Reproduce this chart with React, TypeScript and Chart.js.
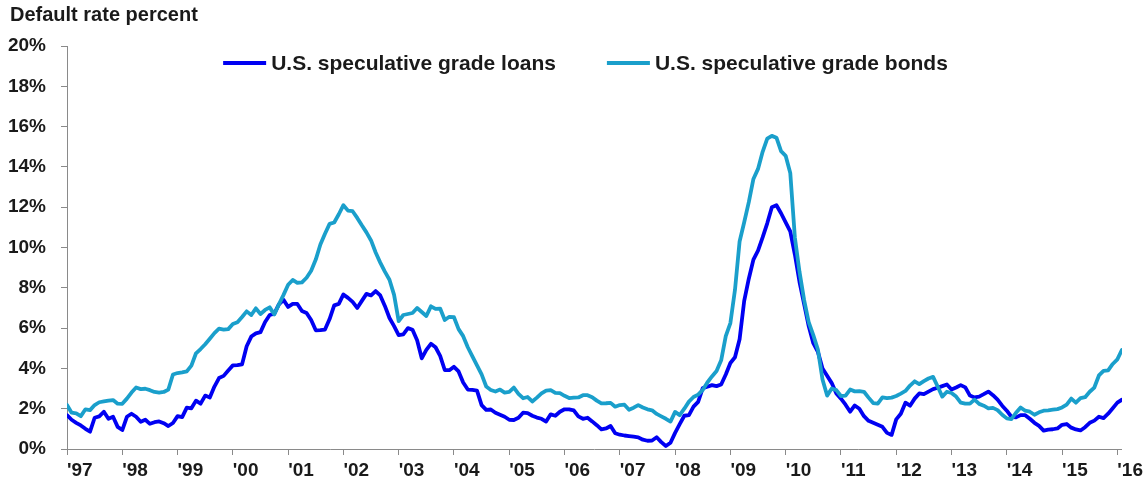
import React, { useEffect, useRef } from "react";
import { Chart, registerables } from "chart.js";

Chart.register(...registerables);

// Months since January 1997 (index 0 = Jan '97)
const yearLabels = [
  "'97", "'98", "'99", "'00", "'01", "'02", "'03", "'04", "'05", "'06",
  "'07", "'08", "'09", "'10", "'11", "'12", "'13", "'14", "'15", "'16",
];
const yearTickMonths = yearLabels.map((_, i) => i * 12);

const yTickValues = [0, 2, 4, 6, 8, 10, 12, 14, 16, 18, 20];

const titleText = "Default rate percent";
const loansLabel = "U.S. speculative grade loans";
const bondsLabel = "U.S. speculative grade bonds";

// Monthly default rates (%), Jan 1997 - Feb 2016
const loans = [
  1.68, 1.45, 1.3, 1.17, 1.0, 0.86, 1.55, 1.62, 1.85, 1.5, 1.6, 1.1,
  0.94, 1.6, 1.75, 1.6, 1.35, 1.45, 1.25, 1.33, 1.37, 1.28, 1.14, 1.29,
  1.63, 1.58, 2.05, 2.02, 2.4, 2.25, 2.65, 2.56, 3.1, 3.52, 3.63, 3.9,
  4.15, 4.16, 4.2, 5.1, 5.58, 5.74, 5.8, 6.3, 6.65, 6.72, 7.18, 7.4,
  7.05, 7.2, 7.2, 6.85, 6.75, 6.4, 5.89, 5.9, 5.93, 6.45, 7.13, 7.2,
  7.67, 7.5, 7.3, 7.0, 7.35, 7.7, 7.62, 7.84, 7.62, 7.1, 6.5, 6.1,
  5.65, 5.69, 6.0, 5.92, 5.4, 4.5, 4.92, 5.22, 5.05, 4.62, 3.92, 3.91,
  4.08, 3.85, 3.3, 2.95, 2.93, 2.9, 2.18, 1.94, 1.96, 1.8, 1.7, 1.6,
  1.45, 1.44, 1.55, 1.8, 1.78, 1.65, 1.56, 1.5, 1.36, 1.72, 1.65, 1.85,
  1.97, 1.97, 1.92, 1.62, 1.5, 1.55, 1.37, 1.18, 0.97, 1.02, 1.14, 0.78,
  0.71, 0.67, 0.64, 0.61, 0.58, 0.46, 0.41, 0.42, 0.58, 0.34, 0.15, 0.31,
  0.8, 1.23, 1.65, 1.68, 2.1, 2.34, 3.02, 3.09, 3.17, 3.12, 3.2, 3.7,
  4.27, 4.55, 5.45, 7.35, 8.45, 9.4, 9.85, 10.5, 11.2, 12.0, 12.1, 11.7,
  11.25, 10.8, 9.65, 8.3, 7.2, 6.1, 5.25, 4.82, 4.0, 3.63, 3.27, 2.75,
  2.5, 2.2, 1.85, 2.16, 2.0, 1.63, 1.4, 1.3, 1.2, 1.1, 0.8, 0.7,
  1.47, 1.75, 2.3, 2.15, 2.5, 2.76, 2.72, 2.85, 2.97, 3.04, 3.12, 3.2,
  2.95, 3.05, 3.17, 3.06, 2.65, 2.56, 2.6, 2.72, 2.85, 2.67, 2.45, 2.15,
  1.9, 1.6, 1.57, 1.68, 1.68, 1.5, 1.3, 1.15, 0.91, 0.96, 0.98, 1.02,
  1.2, 1.24, 1.06, 0.97, 0.92, 1.08, 1.3, 1.41, 1.6, 1.53, 1.75, 2.02,
  2.3, 2.45,
];

const bonds = [
  2.18, 1.8, 1.77, 1.63, 1.97, 1.93, 2.18, 2.32, 2.36, 2.4, 2.43, 2.25,
  2.24, 2.5, 2.8, 3.05, 2.97, 2.99, 2.92, 2.83, 2.8, 2.83, 2.95, 3.7,
  3.77, 3.8, 3.85, 4.14, 4.75, 4.96, 5.2, 5.47, 5.75, 5.97, 5.92, 5.95,
  6.2, 6.29, 6.55, 6.83, 6.65, 6.98, 6.7, 6.9, 7.03, 6.68, 7.18, 7.65,
  8.15, 8.39, 8.25, 8.27, 8.5, 8.85, 9.4, 10.15, 10.68, 11.17, 11.24, 11.65,
  12.1, 11.83, 11.8, 11.47, 11.1, 10.75, 10.35, 9.75, 9.25, 8.8, 8.4, 7.65,
  6.35, 6.65, 6.7, 6.75, 7.0, 6.8, 6.6, 7.08, 6.95, 6.97, 6.4, 6.56,
  6.54, 5.95, 5.6, 5.05, 4.6, 4.15, 3.7, 3.1, 2.93, 2.85, 2.95, 2.8,
  2.83, 3.05, 2.74, 2.52, 2.58, 2.36, 2.55, 2.76, 2.9, 2.92, 2.79, 2.77,
  2.64, 2.53, 2.55, 2.56, 2.67, 2.67, 2.57, 2.4, 2.26, 2.27, 2.29, 2.1,
  2.18, 2.2, 1.95, 2.05, 2.18, 2.06, 1.97, 1.92, 1.74, 1.62, 1.5, 1.36,
  1.84, 1.68, 2.0, 2.35, 2.58, 2.7, 2.93, 3.3, 3.6, 3.87, 4.4, 5.6,
  6.25, 7.9, 10.3, 11.25, 12.25, 13.4, 13.9, 14.75, 15.4, 15.54, 15.45, 14.78,
  14.55, 13.7, 10.5, 8.8, 7.4, 6.3, 5.65, 4.93, 3.45, 2.65, 3.0, 2.92,
  2.63, 2.65, 2.95, 2.86, 2.87, 2.84, 2.55, 2.28, 2.25, 2.56, 2.52, 2.55,
  2.63, 2.75, 2.88, 3.15, 3.36, 3.22, 3.37, 3.5, 3.58, 3.1, 2.6, 2.84,
  2.78, 2.6, 2.3, 2.25, 2.25, 2.45, 2.24, 2.15, 2.02, 2.04, 1.93, 1.7,
  1.52, 1.48, 1.8, 2.06, 1.9, 1.85, 1.7, 1.82, 1.9, 1.92, 1.95, 1.98,
  2.06, 2.2, 2.5, 2.3, 2.52, 2.57, 2.84, 3.05, 3.65, 3.88, 3.9, 4.22,
  4.45, 4.92,
];

const LOANS_COLOR = "#0000f2";
const BONDS_COLOR = "#1a9fcb";
const TEXT_COLOR = "#1a1a1a";
const AXIS_COLOR = "#8a8a8a";
const FONT_FAMILY = '"Liberation Sans", Arial, Helvetica, sans-serif';

const overlayPlugin = {
  id: "overlayTitleLegend",
  afterDraw(chart: any) {
    const { ctx, chartArea } = chart;
    ctx.save();
    ctx.fillStyle = TEXT_COLOR;
    ctx.textBaseline = "middle";
    ctx.textAlign = "left";
    ctx.font = `bold 20px ${FONT_FAMILY}`;
    ctx.fillText(titleText, 10, 15);

    ctx.font = `bold 21px ${FONT_FAMILY}`;
    const items = chart.data.datasets.map((ds: any) => ({
      label: ds.label as string,
      color: ds.borderColor as string,
      w: ctx.measureText(ds.label).width,
    }));
    const lineW = 43;
    const gapLT = 5;
    const gapItems = 51;
    const total =
      items.reduce((s: number, it: any) => s + lineW + gapLT + it.w, 0) +
      gapItems * (items.length - 1);
    let x = (chartArea.left + chartArea.right) / 2 - 9 - total / 2;
    const y = chartArea.top + 17;
    for (const it of items) {
      ctx.strokeStyle = it.color;
      ctx.lineWidth = 4;
      ctx.lineCap = "butt";
      ctx.beginPath();
      ctx.moveTo(x, y);
      ctx.lineTo(x + lineW, y);
      ctx.stroke();
      ctx.fillStyle = TEXT_COLOR;
      ctx.fillText(it.label, x + lineW + gapLT, y + 1);
      x += lineW + gapLT + it.w + gapItems;
    }
    ctx.restore();
  },
};

export default function App() {
  const canvasRef = useRef<HTMLCanvasElement | null>(null);

  useEffect(() => {
    const canvas = canvasRef.current;
    if (!canvas) return;
    const chart = new Chart(canvas, {
      type: "line",
      data: {
        datasets: [
          {
            label: loansLabel,
            data: loans.map((v, i) => ({ x: i, y: v })),
            borderColor: LOANS_COLOR,
            backgroundColor: LOANS_COLOR,
            borderWidth: 3.8,
            pointRadius: 0,
            tension: 0,
            borderJoinStyle: "round",
            borderCapStyle: "round",
            order: 1,
          },
          {
            label: bondsLabel,
            data: bonds.map((v, i) => ({ x: i, y: v })),
            borderColor: BONDS_COLOR,
            backgroundColor: BONDS_COLOR,
            borderWidth: 3.8,
            pointRadius: 0,
            tension: 0,
            borderJoinStyle: "round",
            borderCapStyle: "round",
            order: 0,
          },
        ],
      },
      options: {
        animation: false,
        responsive: false,
        devicePixelRatio: 1,
        layout: { padding: { top: 46, left: 4, right: 0, bottom: 0 } },
        plugins: {
          legend: { display: false },
          title: { display: false },
          tooltip: { enabled: false },
        },
        scales: {
          x: {
            type: "linear",
            min: 0,
            max: loans.length - 1,
            afterBuildTicks: (scale: any) => {
              scale.ticks = yearTickMonths.map((v) => ({ value: v }));
            },
            afterFit: (scale: any) => {
              scale.height = 36;
            },
            border: { display: true, color: AXIS_COLOR, width: 1 },
            grid: {
              display: true,
              drawOnChartArea: false,
              drawTicks: true,
              tickLength: 6,
              color: AXIS_COLOR,
            },
            ticks: {
              autoSkip: false,
              maxRotation: 0,
              minRotation: 0,
              align: "start",
              padding: 4,
              color: TEXT_COLOR,
              font: { family: FONT_FAMILY, size: 19, weight: "bold" },
              callback: (value: any) => {
                const idx = Math.round(Number(value) / 12);
                return yearLabels[idx] ?? "";
              },
            },
          },
          y: {
            type: "linear",
            min: 0,
            max: 20,
            afterBuildTicks: (scale: any) => {
              scale.ticks = yTickValues.map((v) => ({ value: v }));
            },
            afterFit: (scale: any) => {
              scale.width = 63;
            },
            border: { display: true, color: AXIS_COLOR, width: 1 },
            grid: {
              display: true,
              drawOnChartArea: false,
              drawTicks: true,
              tickLength: 6,
              color: AXIS_COLOR,
            },
            ticks: {
              padding: 15,
              color: TEXT_COLOR,
              font: { family: FONT_FAMILY, size: 19, weight: "bold" },
              callback: (value: any) => `${value}%`,
            },
          },
        },
      },
      plugins: [overlayPlugin],
    } as any);
    return () => chart.destroy();
  }, []);

  return (
    <div style={{ position: "fixed", left: 0, top: 0, width: 1147, height: 485, background: "#fff" }}>
      <canvas ref={canvasRef} width={1147} height={485} />
    </div>
  );
}
